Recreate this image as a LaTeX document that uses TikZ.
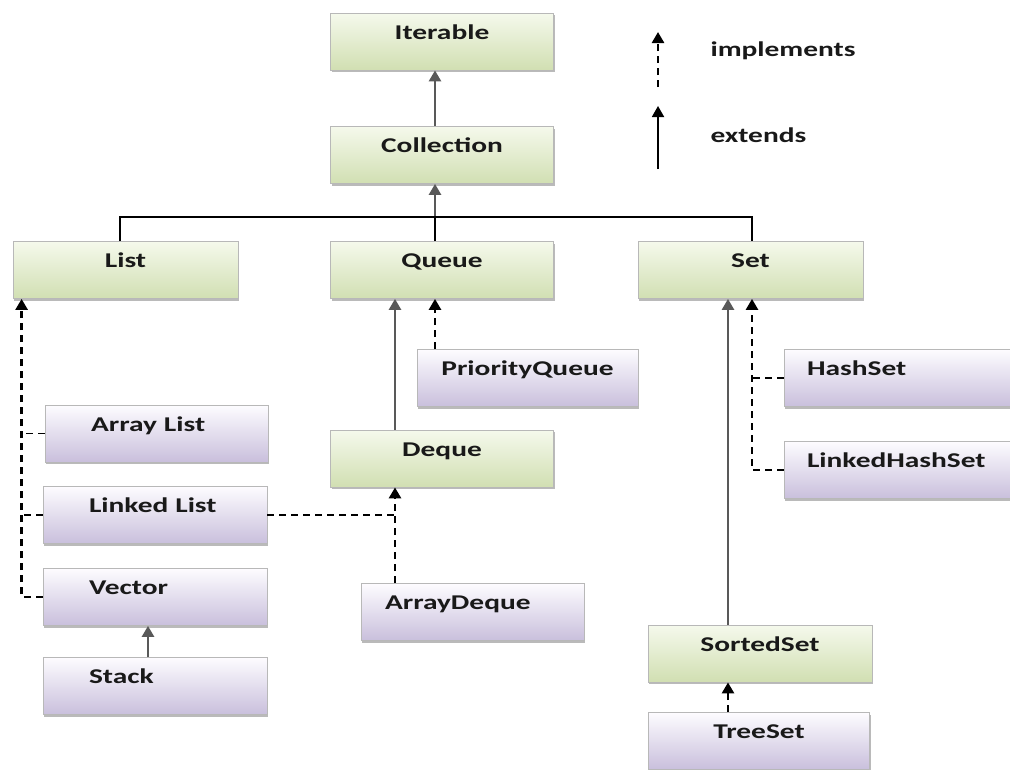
\documentclass[tikz,border=0pt]{standalone}
\usepackage{fontspec}
\usepackage{xcolor}
\usetikzlibrary{arrows.meta,shadows}

\newfontfamily\boxfont{Carlito}[FakeStretch=1.4]

\definecolor{ifacetop}{HTML}{F5F9EC}
\definecolor{ifacebot}{HTML}{D1DFB2}
\definecolor{classtop}{HTML}{FDFCFF}
\definecolor{classbot}{HTML}{C9BFDC}

\tikzset{
  box/.style={draw=black!28, line width=0.8pt, text=black!90,
    font=\boxfont\bfseries\fontsize{21}{25}\selectfont,
    text height=22pt, text depth=27pt, inner ysep=4pt, minimum width=223pt,
    drop shadow={shadow xshift=1pt, shadow yshift=-2pt, fill=black!45, opacity=.6}},
  iface/.style={box, top color=ifacetop, bottom color=ifacebot},
  klass/.style={box, top color=classtop, bottom color=classbot},
  padleft/.style 2 args={inner xsep=#1, text width=#2, align=left},
  extends/.style={draw=black!65, line width=2.6pt, -{Triangle[width=12pt,length=11pt]}},
  implements/.style={draw=black, line width=2.6pt, dash pattern=on 7pt off 5pt,
    -{Triangle[width=12pt,length=11pt]}},
  branch/.style={draw=black, line width=1.8pt, dash pattern=on 7pt off 5pt},
  busline/.style={draw=black, line width=2.2pt},
  legend/.style={anchor=base west, text=black!90,
    font=\boxfont\bfseries\fontsize{21}{25}\selectfont}
}

\begin{document}
\begin{tikzpicture}[x=1pt, y=-1pt]
  \useasboundingbox (0,0) rectangle (1010,769);

  % interfaces
  \node (Iterable) at (442, 41.5) [iface] {Iterable};
  \node (Collection) at (442, 155) [iface] {Collection};
  \node (List) at (125.5, 270) [iface, minimum width=225pt] {List};
  \node (Queue) at (442, 270) [iface] {Queue};
  \node (Set) at (750.5, 270) [iface, minimum width=225pt] {Set};
  \node (Deque) at (442, 458.5) [iface] {Deque};
  \node (SortedSet) at (760, 653.5) [iface, minimum width=224pt] {SortedSet};

  % classes
  \node (PriorityQueue) at (527.5, 378) [klass, minimum width=221pt] {PriorityQueue};
  \node (ArrayList) at (156.5, 433.5) [klass, padleft={46pt}{131pt}] {Array List};
  \node (LinkedList) at (155, 515) [klass, padleft={46pt}{132pt}] {Linked List};
  \node (Vector) at (155, 597) [klass, padleft={46pt}{132pt}] {Vector};
  \node (Stack) at (155, 686) [klass, padleft={46pt}{132pt}] {Stack};
  \node (ArrayDeque) at (472.5, 612) [klass, padleft={23pt}{175pt}] {ArrayDeque};
  \node (HashSet) at (900, 378) [klass, padleft={23pt}{186pt}] {HashSet};
  \node (LinkedHashSet) at (900, 470) [klass, padleft={23pt}{186pt}] {LinkedHashSet};
  \node (TreeSet) at (759, 741) [klass, minimum width=221pt] {TreeSet};

  % legend
  \coordinate (implTail) at (658, 87);
  \coordinate (implTip) at (658, 32);
  \coordinate (extTail) at (658, 169);
  \coordinate (extTip) at (658, 106);
  \draw[implements] (implTail) -- (implTip);
  \draw[extends, draw=black, line width=1.8pt] (extTail) -- (extTip);
  \node (implLabel) at (707, 56) [legend] {implements};
  \node (extLabel) at (707, 142) [legend] {extends};

  % top of the tree
  \coordinate (bus) at (435, 217);
  \draw[extends] ([xshift=-7pt]Collection.north) -- ([xshift=-7pt]Iterable.south);
  \draw[extends] (bus) -- ([xshift=-7pt]Collection.south);
  \draw[busline] ([xshift=-5.5pt]List.north) |- ([xshift=1.5pt]Set.north |- bus)
    -- ([xshift=1.5pt]Set.north);
  \draw[busline] ([xshift=-7pt]Queue.north) -- (bus);

  % list side
  \coordinate (listTrunk) at ([xshift=9pt]List.south west);
  \draw[implements] (Vector.west) -| (listTrunk);
  \draw[branch] (ArrayList.west) -- (ArrayList.west -| listTrunk);
  \draw[branch] (LinkedList.west) -- (LinkedList.west -| listTrunk);
  \draw[extends] ([xshift=-7pt]Stack.north) -- ([xshift=-7pt]Vector.south);

  % queue side
  \coordinate (dequeTrunk) at ([xshift=-47pt]Deque.south);
  \draw[extends] ([xshift=-47pt]Deque.north) -- ([xshift=-47pt]Queue.south);
  \draw[implements] (PriorityQueue.north -| bus) -- (Queue.south -| bus);
  \draw[implements] (ArrayDeque.north -| dequeTrunk) -- (dequeTrunk);
  \draw[branch, line width=2.2pt] (LinkedList.east) -- (LinkedList.east -| dequeTrunk);

  % set side
  \coordinate (setTrunk) at ([xshift=1.5pt]Set.south);
  \draw[implements] (LinkedHashSet.west) -| (setTrunk);
  \draw[branch] (HashSet.west) -- (HashSet.west -| setTrunk);
  \draw[extends] ([xshift=-32pt]SortedSet.north) -- ([xshift=-32pt]SortedSet.north |- Set.south);
  \draw[implements] ([xshift=-32pt]SortedSet.south |- TreeSet.north) -- ([xshift=-32pt]SortedSet.south);
\end{tikzpicture}
\end{document}
